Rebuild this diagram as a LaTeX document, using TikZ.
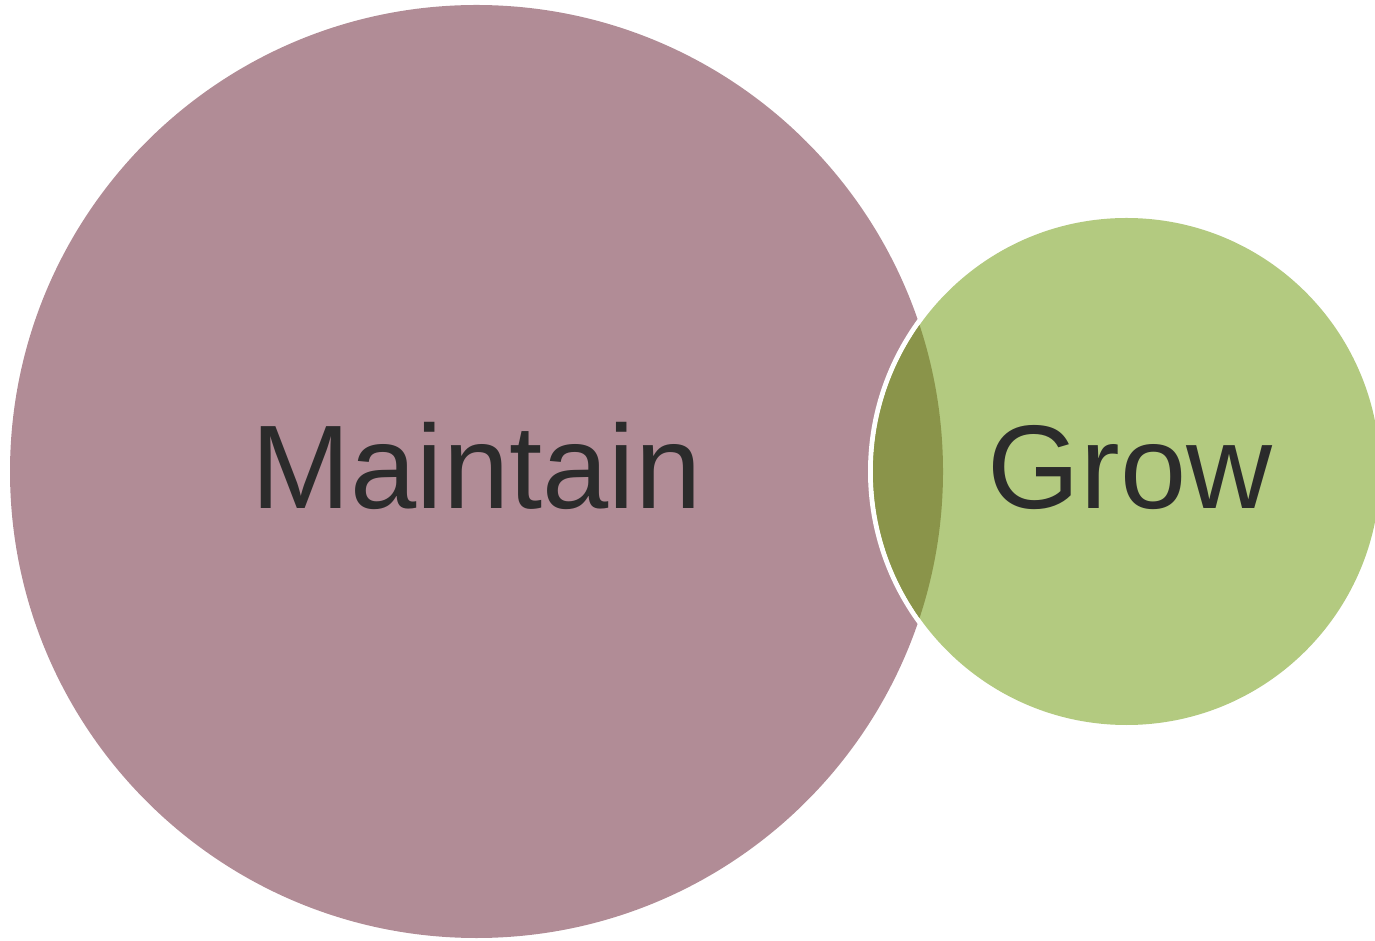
\documentclass[tikz,border=0pt]{standalone}
\usepackage{fontspec}
\setmainfont{Liberation Sans}
\definecolor{mauve}{RGB}{177,140,150}
\definecolor{leaf}{RGB}{179,202,128}
\definecolor{olive}{RGB}{138,148,74}
\definecolor{ink}{RGB}{43,43,43}
\begin{document}
\begin{tikzpicture}[x=1pt,y=1pt,
  lbl/.style={anchor=base,text=ink,inner sep=0pt,font=\fontsize{119}{140}\selectfont}]
\useasboundingbox (0,0) rectangle (1375,940);
\clip (0,0) rectangle (1375,940);
\coordinate (bigc) at (476.5,468.5);
\coordinate (smallc) at (1126.5,468.5);
\fill[mauve] (bigc) circle[radius=466.5];
\draw[white,line width=5] (smallc) circle[radius=256];
\fill[leaf] (smallc) circle[radius=253.5];
\begin{scope}
  \clip (bigc) circle[radius=466.5];
  \fill[olive] (smallc) circle[radius=253.5];
\end{scope}
\node[lbl] (maintain) at (476.5,431) {Maintain};
\node[lbl] (grow) at (1130,431) {Grow};
\end{tikzpicture}
\end{document}
